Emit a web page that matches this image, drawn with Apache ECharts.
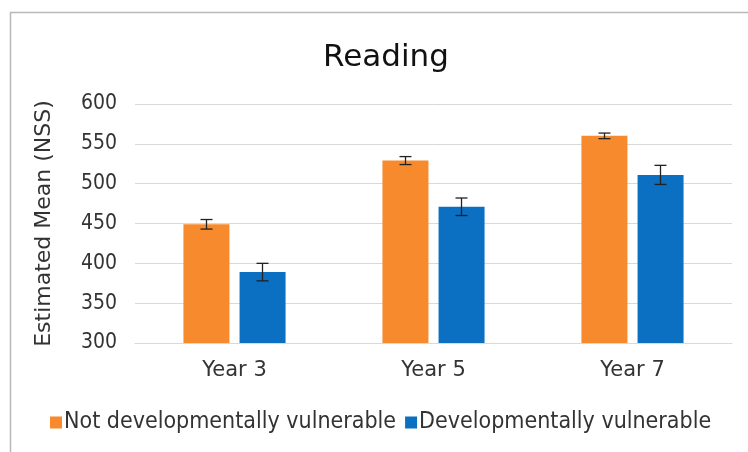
<!DOCTYPE html>
<html><head><meta charset="utf-8">
<script src="https://cdn.jsdelivr.net/npm/echarts@6/dist/echarts.min.js"></script>
<style>html,body{margin:0;padding:0;background:#fff}#c{width:748px;height:452px}</style>
</head><body><div id="c"></div>
<script>
const categories = ['Year 3', 'Year 5', 'Year 7'];
const seriesNames = ['Not developmentally vulnerable', 'Developmentally vulnerable'];
const notVulnerable = [449, 529, 560];
const notVulnerableErr = [6, 5, 3.5];
const vulnerable = [389, 471, 511];
const vulnerableErr = [11, 11, 12];
const yTicks = [300, 350, 400, 450, 500, 550, 600];

const colors = ['#F78A2C', '#0B6FC2'];
const font = 'DejaVu Sans';
const condensed = 'DejaVu Sans Condensed';
const chart = echarts.init(document.getElementById('c'));

function errSeries(vals, errs, idx) {
  return {
    type: 'custom',
    name: seriesNames[idx] + ' err',
    data: vals.map((v, i) => [i, v - errs[i], v + errs[i]]),
    z: 10,
    encode: { x: 0, y: [1, 2] },
    renderItem: function (params, api) {
      const ci = api.value(0);
      const lo = api.coord([ci, api.value(1)]);
      const hi = api.coord([ci, api.value(2)]);
      const barW = 46, gap = 10;
      const off = (idx === 0 ? -1 : 1) * (barW + gap) / 2;
      const x = lo[0] + off;
      const cap = 6;
      const style = { stroke: '#222', lineWidth: 1.3 };
      return {
        type: 'group',
        children: [
          { type: 'line', shape: { x1: x, y1: hi[1], x2: x, y2: lo[1] }, style },
          { type: 'line', shape: { x1: x - cap, y1: hi[1], x2: x + cap, y2: hi[1] }, style },
          { type: 'line', shape: { x1: x - cap, y1: lo[1], x2: x + cap, y2: lo[1] }, style }
        ]
      };
    }
  };
}

chart.setOption({
  animation: false,
  textStyle: { fontFamily: font },
  title: {
    text: 'Reading', left: 381, textAlign: 'center', top: 37,
    textStyle: { fontFamily: font, fontSize: 31, fontWeight: 'normal', color: '#111' }
  },
  legend: {
    data: seriesNames, top: 406, left: 45,
    itemWidth: 12, itemHeight: 12, itemGap: 9,
    icon: 'rect',
    textStyle: { fontFamily: condensed, fontSize: 23, color: '#333', padding: [0, 0, 0, -3] }
  },
  graphic: [
    { type: 'line', shape: { x1: 10.5, y1: 12, x2: 10.5, y2: 452 }, style: { stroke: '#b8b8b8', lineWidth: 1.5 } },
    { type: 'line', shape: { x1: 10, y1: 12.5, x2: 748, y2: 12.5 }, style: { stroke: '#b8b8b8', lineWidth: 1.5 } }
  ],
  grid: { left: 135, right: 16, top: 104, bottom: 109, containLabel: false },
  xAxis: {
    type: 'category', data: categories,
    axisLine: { lineStyle: { color: '#d9d9d9' } },
    axisTick: { show: false },
    axisLabel: { fontFamily: font, fontSize: 21, color: '#333', margin: 17 }
  },
  yAxis: {
    type: 'value', min: 300, max: 600, interval: 50,
    name: 'Estimated Mean (NSS)', nameLocation: 'middle', nameGap: 80,
    nameTextStyle: { fontFamily: font, fontSize: 22, color: '#333' },
    axisLine: { show: false }, axisTick: { show: false },
    axisLabel: { fontFamily: condensed, fontSize: 21, color: '#333', margin: 18,
      formatter: v => yTicks.includes(v) ? String(v) : '' },
    splitLine: { lineStyle: { color: '#d9d9d9' } }
  },
  series: [
    { type: 'bar', name: seriesNames[0], data: notVulnerable, barWidth: 46, barGap: '22%',
      itemStyle: { color: colors[0] } },
    { type: 'bar', name: seriesNames[1], data: vulnerable, barWidth: 46, barGap: '22%',
      itemStyle: { color: colors[1] } },
    errSeries(notVulnerable, notVulnerableErr, 0),
    errSeries(vulnerable, vulnerableErr, 1)
  ]
});
</script></body></html>
